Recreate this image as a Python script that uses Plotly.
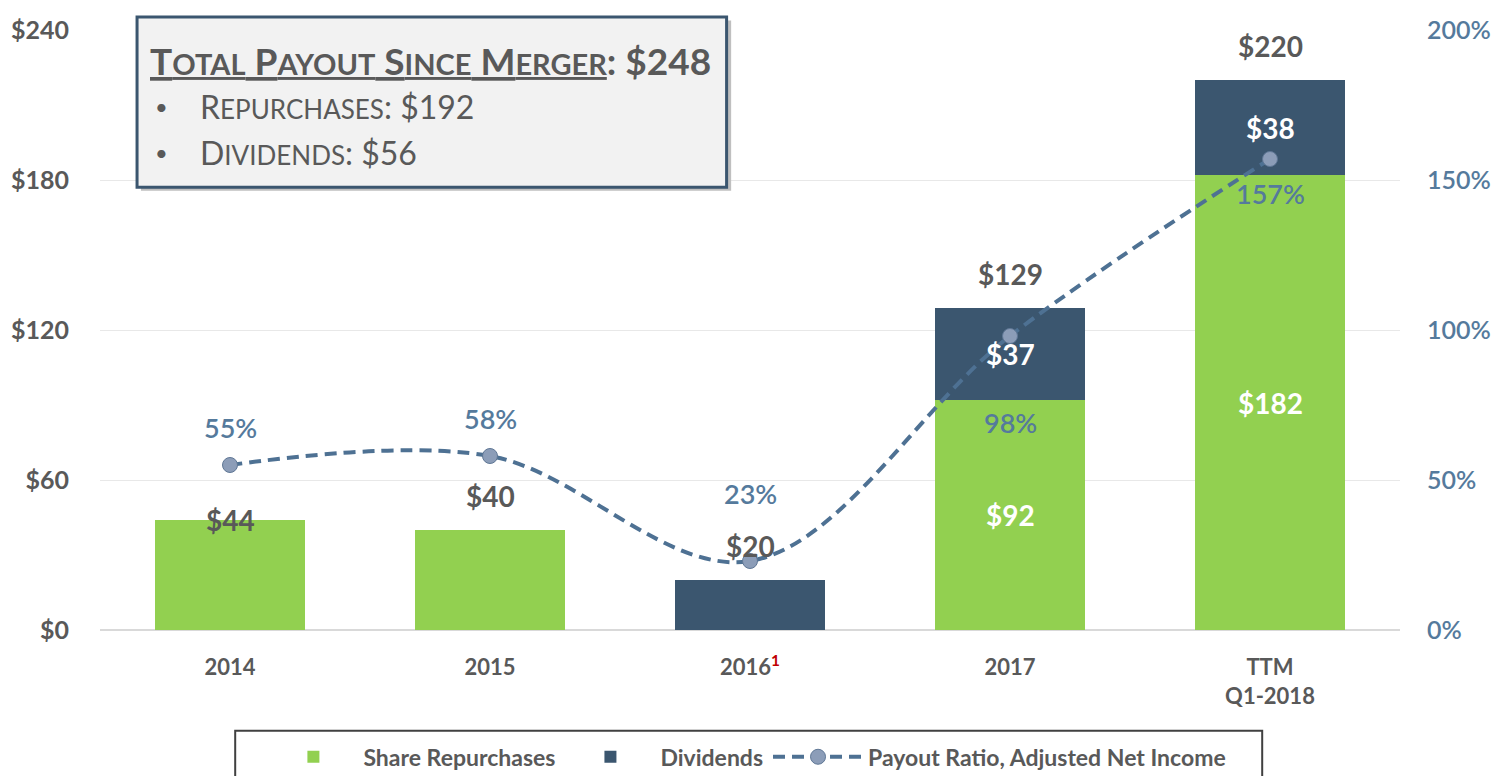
import plotly.graph_objects as go

# ---------------- data ----------------
categories = ["2014", "2015", "2016", "2017", "TTM Q1-2018"]
tick_labels = ["2014", "2015",
               "2016<sup><span style='color:#c00000'>1</span></sup>",
               "2017", "TTM<br>Q1-2018"]
repurchases = [44, 40, 0, 92, 182]
dividends = [0, 0, 20, 37, 38]
payout_ratio = [55, 58, 23, 98, 157]
left_ticks = [0, 60, 120, 180, 240]
right_ticks = [0, 50, 100, 150, 200]
total_repurchases = 192
total_dividends = 56

# ---------------- styles ----------------
GREEN = "#92D050"
NAVY = "#3B566F"
GRAY_TXT = "#595959"
BLUE_TXT = "#557A9C"
LINE_C = "#4E7193"
FONT = "Lato"
total_label_shift = [0, 34, 34, 34, 34]       # px above bar top
ratio_label_shift = [38, 38, 68, -86, -34]      # px relative to point


def smallcaps(s, small):
    out, run, run_small = [], "", None
    for ch in s:
        is_small = ch.isalpha() and ch.islower()
        if run_small is None or is_small == run_small:
            run += ch
        else:
            out.append((run, run_small))
            run = ch
        run_small = is_small
    if run:
        out.append((run, run_small))
    html = ""
    for txt, sm in out:
        if sm:
            html += f"<span style='font-size:{small}px'>{txt.upper()}</span>"
        else:
            html += txt
    return html


totals = [r + d for r, d in zip(repurchases, dividends)]

fig = go.Figure()
fig.add_trace(go.Bar(x=categories, y=repurchases, name="Share Repurchases",
                     marker=dict(color=GREEN, line=dict(width=0))))
fig.add_trace(go.Bar(x=categories, y=dividends, name="Dividends",
                     marker=dict(color=NAVY, line=dict(width=0))))
fig.add_trace(go.Scatter(x=categories, y=payout_ratio, yaxis="y2",
                         name="Payout Ratio, Adjusted Net Income",
                         mode="lines+markers",
                         line=dict(color=LINE_C, width=4, dash="12px,7px",
                                   shape="spline", smoothing=1),
                         marker=dict(size=15, color="#8C9DB8",
                                     line=dict(color="#5F7795", width=1))))

ann = []
for i, c in enumerate(categories):
    ann.append(dict(x=i, y=totals[i], xref="x", yref="y", text=f"${totals[i]}",
                    showarrow=False, yshift=total_label_shift[i],
                    font=dict(family=FONT, size=28, color=GRAY_TXT, weight=700)))
    if repurchases[i] > 0 and dividends[i] > 0:
        ann.append(dict(x=i, y=repurchases[i] / 2, xref="x", yref="y",
                        text=f"<b>${repurchases[i]}</b>", showarrow=False,
                        font=dict(family=FONT, size=28, color="white")))
        ann.append(dict(x=i, y=repurchases[i] + dividends[i] / 2, xref="x", yref="y",
                        text=f"<b>${dividends[i]}</b>", showarrow=False,
                        font=dict(family=FONT, size=28, color="white")))
    ann.append(dict(x=i, y=payout_ratio[i], xref="x", yref="y2",
                    text=f"{payout_ratio[i]}%", showarrow=False,
                    yshift=ratio_label_shift[i],
                    font=dict(family=FONT, size=27, color=BLUE_TXT, weight=600)))

# summary box
title_html = ("<u>" + smallcaps("Total Payout Since Merger", 29) + "</u>"
              + smallcaps(f": ${total_repurchases + total_dividends}", 29))
ann.append(dict(x=0.037, y=0.95, xref="paper", yref="paper", xanchor="left",
                yanchor="middle", showarrow=False, text=title_html,
                font=dict(family=FONT, size=37, color=GRAY_TXT, weight=700)))
for yy, label in [(0.873, smallcaps(f"Repurchases: ${total_repurchases}", 26)),
                  (0.795, smallcaps(f"Dividends: ${total_dividends}", 26))]:
    ann.append(dict(x=0.041, y=yy, xref="paper", yref="paper", xanchor="left",
                    yanchor="middle", showarrow=False, text="•",
                    font=dict(family=FONT, size=22, color=GRAY_TXT)))
    ann.append(dict(x=0.075, y=yy, xref="paper", yref="paper", xanchor="left",
                    yanchor="middle", showarrow=False, text=label,
                    font=dict(family=FONT, size=32, color=GRAY_TXT)))

shapes = [
    dict(type="rect", xref="paper", yref="paper", x0=0.0315, x1=0.4855,
         y0=0.732, y1=1.016, fillcolor="#BFBFBF", line=dict(width=0), layer="above"),
    dict(type="rect", xref="paper", yref="paper", x0=0.0285, x1=0.482,
         y0=0.738, y1=1.0217, fillcolor="#F2F2F2",
         line=dict(color="#3B566F", width=3), layer="above"),
    dict(type="rect", xref="paper", yref="paper", x0=0.104, x1=0.894,
         y0=-0.168, y1=-0.26, fillcolor="rgba(0,0,0,0)",
         line=dict(color="#404040", width=2)),
]

fig.update_layout(
    width=1496, height=768,
    margin=dict(l=92, r=104, t=22, b=146),
    paper_bgcolor="white", plot_bgcolor="white",
    barmode="stack", bargap=0.42,
    font=dict(family=FONT, color=GRAY_TXT),
    xaxis=dict(type="category", categoryorder="array", categoryarray=categories,
               range=[-0.5, len(categories) - 0.5],
               tickvals=list(range(len(categories))), ticktext=tick_labels,
               tickangle=0, automargin=False,
               tickfont=dict(family=FONT, size=22, color=GRAY_TXT, weight=700),
               showline=False, ticks="", ticklabelstandoff=22),
    yaxis=dict(range=[0, 240], tickvals=left_ticks, automargin=False,
               ticktext=[f"${v}" for v in left_ticks],
               tickfont=dict(family=FONT, size=25, color=GRAY_TXT, weight=700),
               gridcolor="#E8E8E8", gridwidth=1, zeroline=True,
               zerolinecolor="#D9D9D9", zerolinewidth=1.5,
               showline=False, ticks="", ticklabelstandoff=30),
    yaxis2=dict(range=[0, 200], tickvals=right_ticks, overlaying="y", side="right",
                ticktext=[f"{v}%" for v in right_ticks], automargin=False,
                tickfont=dict(family=FONT, size=25, color=BLUE_TXT, weight=600),
                showgrid=False, zeroline=False, showline=False, ticks="",
                ticklabelstandoff=26),
    legend=dict(orientation="h", x=0.498, xanchor="center",
                yref="container", y=0.025, yanchor="middle",
                bgcolor="rgba(0,0,0,0)", borderwidth=0,
                font=dict(family=FONT, size=23, color=GRAY_TXT, weight=700),
                itemwidth=90, traceorder="normal"),
    annotations=ann, shapes=shapes, showlegend=True,
)

fig.write_html("out.html")
